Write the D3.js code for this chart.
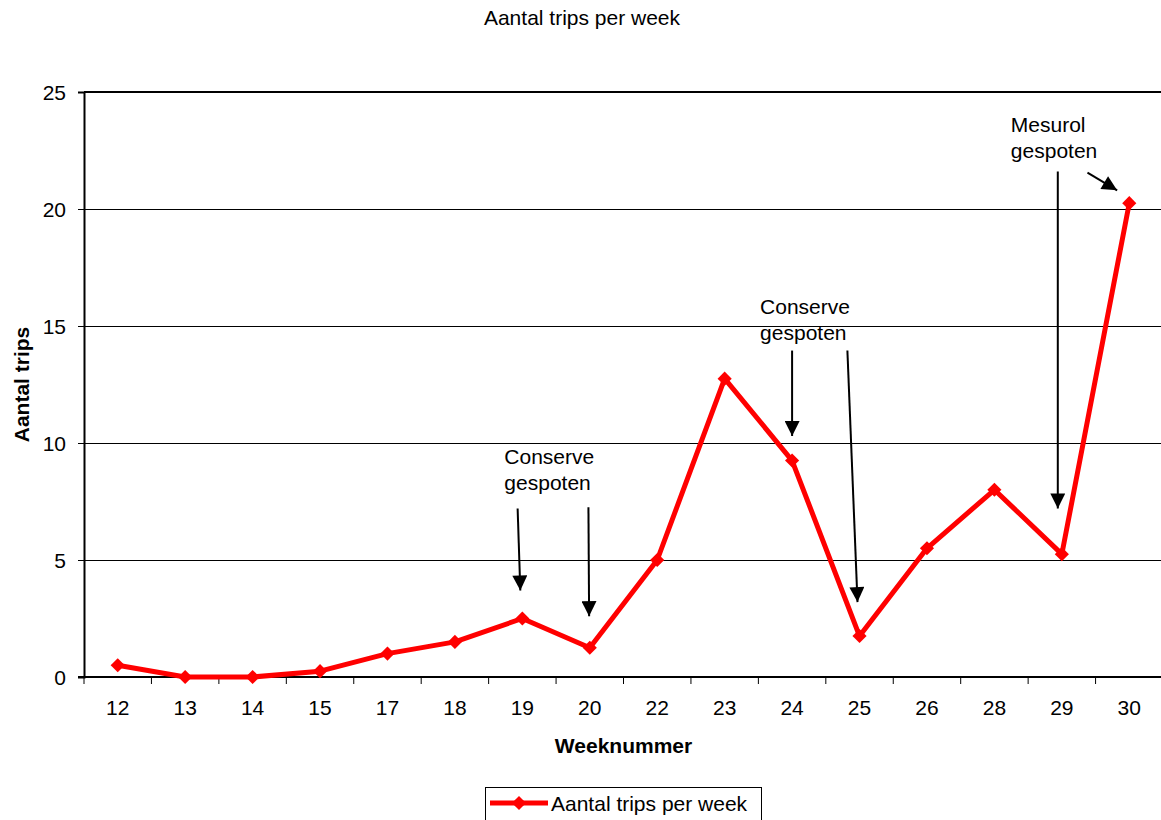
<!DOCTYPE html>
<html>
<head>
<meta charset="utf-8">
<script src="https://d3js.org/d3.v7.min.js"></script>
<style>
  html, body { margin: 0; padding: 0; background: #fff; }
  svg { display: block; font-family: "Liberation Sans", Arial, sans-serif; }
</style>
</head>
<body>
<svg id="chart" width="1161" height="820"></svg>
<script>
// Week numbers (categorical) and the number of thrips counted each week
const weeks = ["12", "13", "14", "15", "17", "18", "19", "20", "22", "23", "24", "25", "26", "28", "29", "30"];
const trips = [0.5, 0, 0, 0.25, 1, 1.5, 2.5, 1.25, 5, 12.75, 9.25, 1.75, 5.5, 8, 5.25, 20.25];
const yTicks = [0, 5, 10, 15, 20, 25];

// Spraying notes: text lines anchored to a week, arrows in week/value units
const notes = [
  { week: "19", dx: -18, value: 9.1, lines: ["Conserve", "gespoten"] },
  { week: "24", dx: -32, value: 15.5, lines: ["Conserve", "gespoten"] },
  { week: "29", dx: -51, value: 23.3, lines: ["Mesurol", "gespoten"] }
];
const arrows = [
  { w0: "19", o0: -0.07, v0: 7.2,  w1: "19", o1: -0.03, v1: 3.7 },
  { w0: "20", o0: -0.02, v0: 7.25, w1: "20", o1: -0.01, v1: 2.6 },
  { w0: "24", o0: 0.0,   v0: 13.95, w1: "24", o1: 0.0,  v1: 10.3 },
  { w0: "24", o0: 0.82,  v0: 13.95, w1: "25", o1: -0.03, v1: 3.2 },
  { w0: "29", o0: -0.06, v0: 21.6, w1: "29", o1: -0.06, v1: 7.2 },
  { w0: "29", o0: 0.38,  v0: 21.55, w1: "30", o1: -0.18, v1: 20.8 }
];

const svg = d3.select("#chart");
const margin = { left: 84, right: 1163, top: 92, bottom: 677 };
const FONT = 21;

const x = d3.scaleBand().domain(weeks).range([margin.left, margin.right]).padding(0);
const y = d3.scaleLinear().domain([0, 25]).range([margin.bottom, margin.top]);
const cx = w => x(w) + x.bandwidth() / 2;

// Title
svg.append("text")
  .attr("x", 582).attr("y", 25)
  .attr("text-anchor", "middle")
  .attr("font-size", FONT)
  .text("Aantal trips per week");

// Horizontal gridlines
svg.append("g")
  .selectAll("line")
  .data(yTicks.filter(t => t > 0 && t < 25))
  .join("line")
  .attr("x1", margin.left).attr("x2", margin.right)
  .attr("y1", d => y(d)).attr("y2", d => y(d))
  .attr("stroke", "#000").attr("stroke-width", 1)
  .attr("shape-rendering", "crispEdges");

// Top border of the plot area
svg.append("line")
  .attr("x1", margin.left).attr("x2", margin.right)
  .attr("y1", y(25)).attr("y2", y(25))
  .attr("stroke", "#000").attr("stroke-width", 2);

// Y axis
const yAxis = svg.append("g")
  .attr("transform", `translate(${margin.left},0)`)
  .call(d3.axisLeft(y).tickValues(yTicks).tickSize(6).tickPadding(12));
yAxis.select(".domain").attr("stroke-width", 2);
yAxis.selectAll(".tick line").attr("stroke-width", 1);
yAxis.selectAll(".tick text")
  .attr("font-size", FONT)
  .attr("font-family", "Liberation Sans, Arial, sans-serif")
  .attr("fill", "#000")
  .attr("dy", "0.36em");

// X axis: ticks sit on category boundaries, labels on centres
const xAxisG = svg.append("g").attr("transform", `translate(0,${margin.bottom})`);
xAxisG.append("line")
  .attr("x1", margin.left - 6).attr("x2", margin.right)
  .attr("y1", 0).attr("y2", 0)
  .attr("stroke", "#000").attr("stroke-width", 2);
const bounds = weeks.map(w => x(w)).concat([margin.right]);
xAxisG.selectAll(".xtick")
  .data(bounds)
  .join("line")
  .attr("class", "xtick")
  .attr("x1", d => d).attr("x2", d => d)
  .attr("y1", 0).attr("y2", 7)
  .attr("stroke", "#000").attr("stroke-width", 1);
xAxisG.selectAll(".xlabel")
  .data(weeks)
  .join("text")
  .attr("class", "xlabel")
  .attr("x", d => cx(d))
  .attr("y", 38)
  .attr("text-anchor", "middle")
  .attr("font-size", FONT)
  .text(d => d);

// Axis titles
svg.append("text")
  .attr("x", (margin.left + margin.right) / 2).attr("y", 753)
  .attr("text-anchor", "middle")
  .attr("font-size", FONT).attr("font-weight", "bold")
  .text("Weeknummer");
svg.append("text")
  .attr("transform", `translate(29,${(margin.top + margin.bottom) / 2}) rotate(-90)`)
  .attr("text-anchor", "middle")
  .attr("font-size", FONT).attr("font-weight", "bold")
  .text("Aantal trips");

// Data line
const line = d3.line().x((d, i) => cx(weeks[i])).y(d => y(d));
svg.append("path")
  .datum(trips)
  .attr("d", line)
  .attr("fill", "none")
  .attr("stroke", "#ff0000")
  .attr("stroke-width", 5)
  .attr("stroke-linejoin", "round");

// Diamond markers
const diamond = d3.symbol().type(d3.symbolSquare).size(100);
svg.append("g")
  .selectAll("path")
  .data(trips)
  .join("path")
  .attr("d", diamond)
  .attr("transform", (d, i) => `translate(${cx(weeks[i])},${y(d)}) rotate(45)`)
  .attr("fill", "#ff0000");

// Arrow markers
const defs = svg.append("defs");
defs.append("marker")
  .attr("id", "arrowhead")
  .attr("viewBox", "0 0 10 10")
  .attr("refX", 10).attr("refY", 5)
  .attr("markerUnits", "userSpaceOnUse")
  .attr("markerWidth", 16).attr("markerHeight", 15)
  .attr("orient", "auto")
  .append("path")
  .attr("d", "M0,0 L10,5 L0,10 Z")
  .attr("fill", "#000");

const ax = (w, o) => cx(w) + o * x.bandwidth();
svg.append("g")
  .selectAll("line")
  .data(arrows)
  .join("line")
  .attr("x1", d => ax(d.w0, d.o0)).attr("y1", d => y(d.v0))
  .attr("x2", d => ax(d.w1, d.o1)).attr("y2", d => y(d.v1))
  .attr("stroke", "#000").attr("stroke-width", 2)
  .attr("marker-end", "url(#arrowhead)");

// Annotation texts
const noteG = svg.append("g")
  .selectAll("text")
  .data(notes)
  .join("text")
  .attr("x", d => cx(d.week) + d.dx)
  .attr("y", d => y(d.value))
  .attr("font-size", FONT);
noteG.selectAll("tspan")
  .data(d => d.lines.map(l => ({ l, x: cx(d.week) + d.dx })))
  .join("tspan")
  .attr("x", d => d.x)
  .attr("dy", (d, i) => i === 0 ? 0 : 26)
  .text(d => d.l);

// Legend
const lg = svg.append("g");
lg.append("rect")
  .attr("x", 485.5).attr("y", 787.5)
  .attr("width", 276).attr("height", 40)
  .attr("fill", "#fff").attr("stroke", "#000").attr("stroke-width", 1);
lg.append("line")
  .attr("x1", 490).attr("x2", 548)
  .attr("y1", 803).attr("y2", 803)
  .attr("stroke", "#ff0000").attr("stroke-width", 5);
lg.append("path")
  .attr("d", diamond)
  .attr("transform", "translate(519,803) rotate(45)")
  .attr("fill", "#ff0000");
lg.append("text")
  .attr("x", 551).attr("y", 811)
  .attr("font-size", FONT)
  .text("Aantal trips per week");
</script>
</body>
</html>
